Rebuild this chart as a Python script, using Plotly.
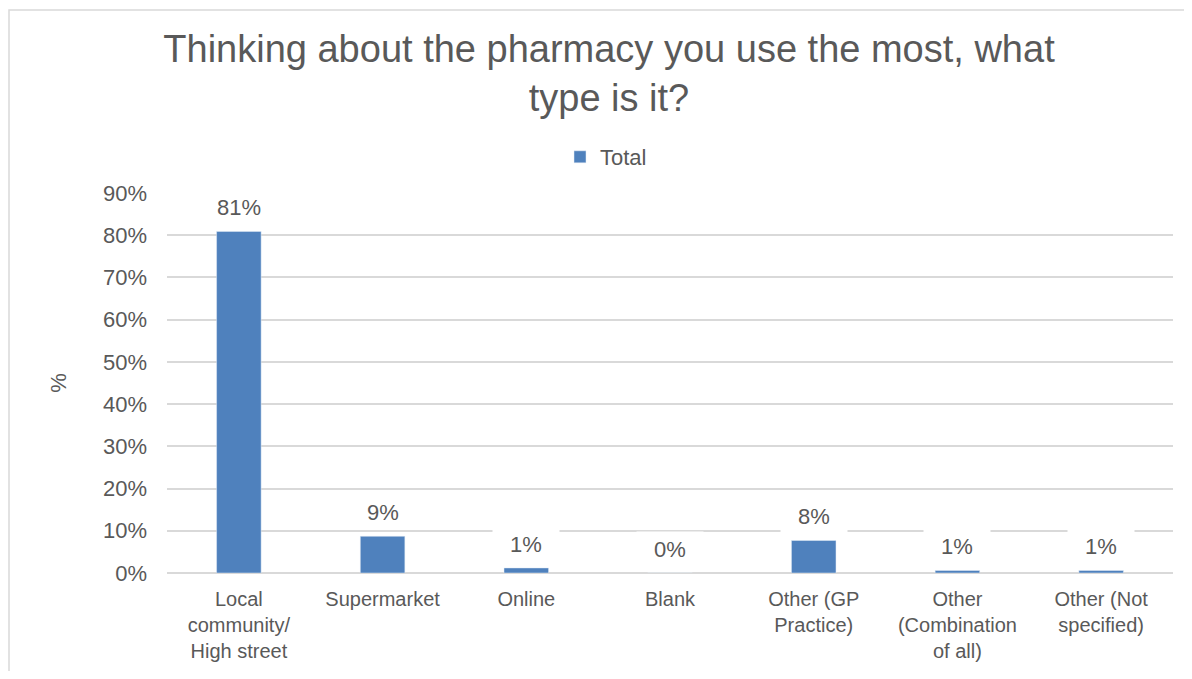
import plotly.graph_objects as go

categories = ["Local<br>community/<br>High street", "Supermarket", "Online", "Blank",
              "Other (GP<br>Practice)", "Other<br>(Combination<br>of all)", "Other (Not<br>specified)"]
values = [80.9, 8.7, 1.2, 0.0, 7.7, 0.6, 0.6]
labels = ["81%", "9%", "1%", "0%", "8%", "1%", "1%"]
y_ticks = [0, 10, 20, 30, 40, 50, 60, 70, 80, 90]
y_tick_text = [f"{t}%" for t in y_ticks]

# page body has an 8px margin; figure sized to fit inside the window
OFF = 8
W, H = 1192 - 2 * OFF, 679 - 2 * OFF
PL, PT, PR, PB = 167, 193, 1173, 573          # plot area in window pixels
ML, MT = PL - OFF, PT - OFF
MR = (W + OFF) - PR
MB = (H + OFF) - PB
pw, ph = PR - PL, PB - PT

TEXT = "#595959"
GRID = "#D9D9D9"
BLUE = "#4F81BD"
FONT = "Liberation Sans, Arial, sans-serif"

fig = go.Figure()
fig.add_trace(go.Bar(x=categories, y=values, name="Total", marker_color=BLUE,
                     showlegend=True, hoverinfo="skip"))

for c, v, t in zip(categories, values, labels):
    fig.add_annotation(x=c, y=v, text=t, showarrow=False, yanchor="bottom",
                       yshift=6, bgcolor="white", width=64, height=32,
                       font=dict(size=22, color=TEXT, family=FONT))

# chart-area border (window pixel coords converted to paper coords)
fig.add_shape(type="rect", xref="paper", yref="paper",
              x0=(9 - PL) / pw, x1=(1215 - PL) / pw,
              y0=(PB - 700) / ph, y1=(PB - 10) / ph,
              line=dict(color=GRID, width=1.5), fillcolor="rgba(0,0,0,0)", layer="below")

fig.update_layout(
    width=W, height=H,
    margin=dict(l=ML, r=MR, t=MT, b=MB, autoexpand=False),
    paper_bgcolor="white", plot_bgcolor="white",
    font=dict(family=FONT, color=TEXT, size=22),
    title=dict(text="Thinking about the pharmacy you use the most, what<br>type is it?",
               x=(609 - OFF) / W, xref="container", xanchor="center",
               y=1 - (62 - OFF) / H, yref="container", yanchor="middle",
               font=dict(size=38, color=TEXT, family=FONT)),
    legend=dict(orientation="h", xref="container", x=(606 - OFF) / W, xanchor="center",
                yref="container", y=1 - (157 - OFF) / H, yanchor="middle",
                font=dict(size=22, color=TEXT, family=FONT), itemwidth=30),
    bargap=0.69,
    xaxis=dict(showgrid=False, showline=False, tickfont=dict(size=20, color=TEXT),
               ticklabelstandoff=12, fixedrange=True, automargin=False),
    yaxis=dict(range=[0, 90], tickvals=y_ticks, ticktext=y_tick_text,
               showgrid=True, gridcolor=GRID, gridwidth=1.5,
               zeroline=True, zerolinecolor=GRID, zerolinewidth=1.5,
               tickfont=dict(size=22, color=TEXT), ticklabelstandoff=19,
               automargin=False,
               title=dict(text="%", standoff=30, font=dict(size=22, color=TEXT))),
)

fig.write_html("out.html")
